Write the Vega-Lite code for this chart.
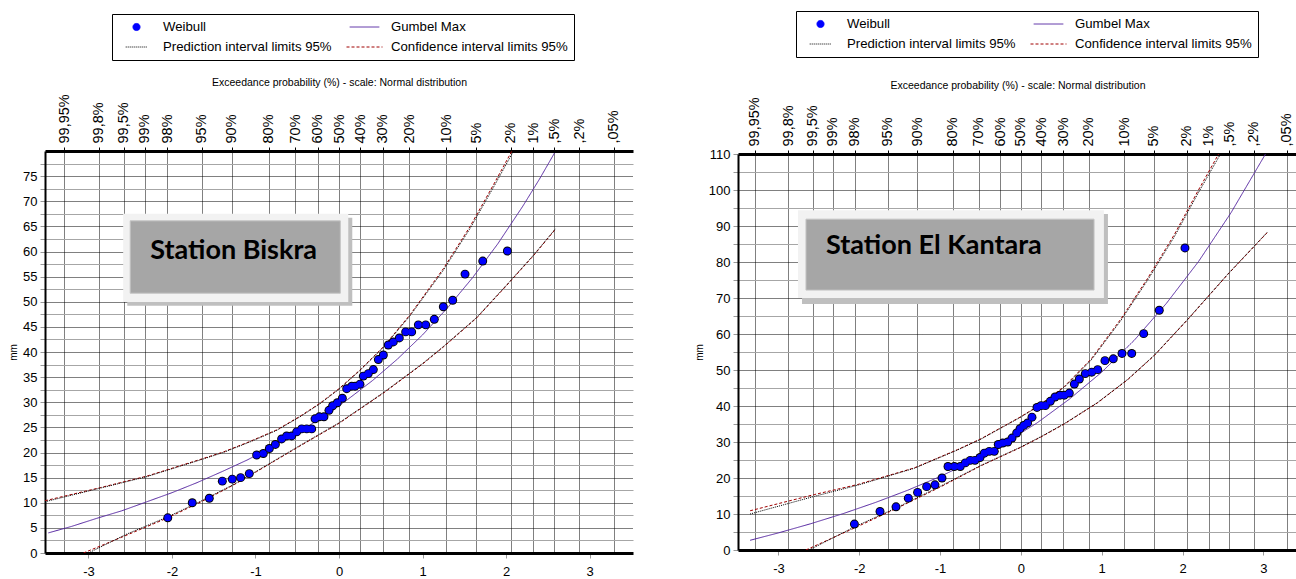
{
  "$schema": "https://vega.github.io/schema/vega-lite/v6.json",
  "background": "white",
  "padding": {"left": 8, "top": 10, "right": 0, "bottom": 0},
  "spacing": 61,
  "center": true,
  "resolve": {
    "scale": {"color": "independent", "shape": "independent", "size": "independent", "strokeDash": "independent"},
    "legend": {"color": "independent", "shape": "independent", "size": "independent", "strokeDash": "independent"}
  },
  "datasets": {
    "one": [{}],
    "bp": [
      {"series":"Weibull","z":-2.05,"mm":7.0},{"series":"Weibull","z":-1.757,"mm":10.0},{"series":"Weibull","z":-1.553,"mm":10.9},{"series":"Weibull","z":-1.397,"mm":14.3},{"series":"Weibull","z":-1.278,"mm":14.7},{"series":"Weibull","z":-1.178,"mm":15.0},{"series":"Weibull","z":-1.074,"mm":15.8},{"series":"Weibull","z":-0.986,"mm":19.5},{"series":"Weibull","z":-0.906,"mm":19.8},{"series":"Weibull","z":-0.834,"mm":20.8},{"series":"Weibull","z":-0.762,"mm":21.6},{"series":"Weibull","z":-0.687,"mm":22.7},{"series":"Weibull","z":-0.627,"mm":23.3},{"series":"Weibull","z":-0.567,"mm":23.3},{"series":"Weibull","z":-0.507,"mm":24.1},{"series":"Weibull","z":-0.447,"mm":24.7},{"series":"Weibull","z":-0.387,"mm":24.7},{"series":"Weibull","z":-0.327,"mm":24.7},{"series":"Weibull","z":-0.287,"mm":26.7},{"series":"Weibull","z":-0.236,"mm":27.1},{"series":"Weibull","z":-0.18,"mm":27.1},{"series":"Weibull","z":-0.12,"mm":28.4},{"series":"Weibull","z":-0.076,"mm":29.3},{"series":"Weibull","z":-0.02,"mm":29.9},{"series":"Weibull","z":0.04,"mm":30.8},{"series":"Weibull","z":0.092,"mm":32.7},{"series":"Weibull","z":0.152,"mm":33.2},{"series":"Weibull","z":0.192,"mm":33.2},{"series":"Weibull","z":0.251,"mm":33.6},{"series":"Weibull","z":0.291,"mm":35.2},{"series":"Weibull","z":0.351,"mm":35.7},{"series":"Weibull","z":0.411,"mm":36.5},{"series":"Weibull","z":0.471,"mm":38.5},{"series":"Weibull","z":0.531,"mm":39.4},{"series":"Weibull","z":0.59,"mm":41.4},{"series":"Weibull","z":0.65,"mm":42.0},{"series":"Weibull","z":0.722,"mm":42.8},{"series":"Weibull","z":0.798,"mm":44.0},{"series":"Weibull","z":0.87,"mm":44.0},{"series":"Weibull","z":0.95,"mm":45.4},{"series":"Weibull","z":1.038,"mm":45.4},{"series":"Weibull","z":1.141,"mm":46.5},{"series":"Weibull","z":1.249,"mm":49.0},{"series":"Weibull","z":1.361,"mm":50.3},{"series":"Weibull","z":1.509,"mm":55.5},{"series":"Weibull","z":1.721,"mm":58.1},{"series":"Weibull","z":2.016,"mm":60.1}
    ],
    "bl": [
      {"series":"Gumbel Max","part":"fit","z":-3.48,"mm":4.0},{"series":"Gumbel Max","part":"fit","z":-3.2,"mm":5.3},{"series":"Gumbel Max","part":"fit","z":-2.9,"mm":6.9},{"series":"Gumbel Max","part":"fit","z":-2.6,"mm":8.4},{"series":"Gumbel Max","part":"fit","z":-2.3,"mm":10.2},{"series":"Gumbel Max","part":"fit","z":-2.0,"mm":12.0},{"series":"Gumbel Max","part":"fit","z":-1.7,"mm":14.0},{"series":"Gumbel Max","part":"fit","z":-1.4,"mm":16.2},{"series":"Gumbel Max","part":"fit","z":-1.1,"mm":18.5},{"series":"Gumbel Max","part":"fit","z":-0.8,"mm":21.1},{"series":"Gumbel Max","part":"fit","z":-0.5,"mm":23.9},{"series":"Gumbel Max","part":"fit","z":-0.2,"mm":27.0},{"series":"Gumbel Max","part":"fit","z":0.1,"mm":30.5},{"series":"Gumbel Max","part":"fit","z":0.4,"mm":34.3},{"series":"Gumbel Max","part":"fit","z":0.7,"mm":38.6},{"series":"Gumbel Max","part":"fit","z":1.0,"mm":43.4},{"series":"Gumbel Max","part":"fit","z":1.3,"mm":48.8},{"series":"Gumbel Max","part":"fit","z":1.6,"mm":54.8},{"series":"Gumbel Max","part":"fit","z":1.9,"mm":61.5},{"series":"Gumbel Max","part":"fit","z":2.2,"mm":69.0},{"series":"Gumbel Max","part":"fit","z":2.4,"mm":74.4},{"series":"Gumbel Max","part":"fit","z":2.58,"mm":79.6},
      {"series":"Confidence interval limits 95%","part":"up","z":-3.52,"mm":10.4},{"series":"Confidence interval limits 95%","part":"up","z":-2.86,"mm":13.0},{"series":"Confidence interval limits 95%","part":"up","z":-2.3,"mm":15.3},{"series":"Confidence interval limits 95%","part":"up","z":-1.665,"mm":18.6},{"series":"Confidence interval limits 95%","part":"up","z":-1.386,"mm":20.1},{"series":"Confidence interval limits 95%","part":"up","z":-1.066,"mm":22.2},{"series":"Confidence interval limits 95%","part":"up","z":-0.746,"mm":24.5},{"series":"Confidence interval limits 95%","part":"up","z":-0.467,"mm":27.2},{"series":"Confidence interval limits 95%","part":"up","z":-0.228,"mm":29.8},{"series":"Confidence interval limits 95%","part":"up","z":0,"mm":32.7},{"series":"Confidence interval limits 95%","part":"up","z":0.25,"mm":36.4},{"series":"Confidence interval limits 95%","part":"up","z":0.53,"mm":41.0},{"series":"Confidence interval limits 95%","part":"up","z":0.85,"mm":47.4},{"series":"Confidence interval limits 95%","part":"up","z":1.25,"mm":56.6},{"series":"Confidence interval limits 95%","part":"up","z":1.57,"mm":65.0},{"series":"Confidence interval limits 95%","part":"up","z":1.85,"mm":73.3},{"series":"Confidence interval limits 95%","part":"up","z":2.07,"mm":80.0},
      {"series":"Prediction interval limits 95%","part":"up","z":-3.52,"mm":10.2},{"series":"Prediction interval limits 95%","part":"up","z":-2.86,"mm":12.9},{"series":"Prediction interval limits 95%","part":"up","z":-2.3,"mm":15.2},{"series":"Prediction interval limits 95%","part":"up","z":-1.665,"mm":18.5},{"series":"Prediction interval limits 95%","part":"up","z":-1.386,"mm":20.0},{"series":"Prediction interval limits 95%","part":"up","z":-1.066,"mm":22.1},{"series":"Prediction interval limits 95%","part":"up","z":-0.746,"mm":24.4},{"series":"Prediction interval limits 95%","part":"up","z":-0.467,"mm":27.1},{"series":"Prediction interval limits 95%","part":"up","z":-0.228,"mm":29.7},{"series":"Prediction interval limits 95%","part":"up","z":0,"mm":32.6},{"series":"Prediction interval limits 95%","part":"up","z":0.25,"mm":36.3},{"series":"Prediction interval limits 95%","part":"up","z":0.53,"mm":40.9},{"series":"Prediction interval limits 95%","part":"up","z":0.85,"mm":47.2},{"series":"Prediction interval limits 95%","part":"up","z":1.25,"mm":56.3},{"series":"Prediction interval limits 95%","part":"up","z":1.57,"mm":64.6},{"series":"Prediction interval limits 95%","part":"up","z":1.85,"mm":72.8},{"series":"Prediction interval limits 95%","part":"up","z":2.09,"mm":80.0},
      {"series":"Confidence interval limits 95%","part":"low","z":-3.06,"mm":0},{"series":"Confidence interval limits 95%","part":"low","z":-2.55,"mm":3.5},{"series":"Confidence interval limits 95%","part":"low","z":-2.05,"mm":7.0},{"series":"Confidence interval limits 95%","part":"low","z":-1.65,"mm":10.2},{"series":"Confidence interval limits 95%","part":"low","z":-1.266,"mm":13.5},{"series":"Confidence interval limits 95%","part":"low","z":-0.986,"mm":16.2},{"series":"Confidence interval limits 95%","part":"low","z":-0.467,"mm":21.3},{"series":"Confidence interval limits 95%","part":"low","z":0,"mm":25.8},{"series":"Confidence interval limits 95%","part":"low","z":0.53,"mm":31.8},{"series":"Confidence interval limits 95%","part":"low","z":1.0,"mm":37.6},{"series":"Confidence interval limits 95%","part":"low","z":1.25,"mm":41.0},{"series":"Confidence interval limits 95%","part":"low","z":1.65,"mm":46.8},{"series":"Confidence interval limits 95%","part":"low","z":2.01,"mm":53.3},{"series":"Confidence interval limits 95%","part":"low","z":2.33,"mm":59.2},{"series":"Confidence interval limits 95%","part":"low","z":2.59,"mm":64.4},
      {"series":"Prediction interval limits 95%","part":"low","z":-3.0,"mm":0},{"series":"Prediction interval limits 95%","part":"low","z":-2.55,"mm":3.7},{"series":"Prediction interval limits 95%","part":"low","z":-2.05,"mm":7.2},{"series":"Prediction interval limits 95%","part":"low","z":-1.65,"mm":10.35},{"series":"Prediction interval limits 95%","part":"low","z":-1.266,"mm":13.6},{"series":"Prediction interval limits 95%","part":"low","z":-0.986,"mm":16.3},{"series":"Prediction interval limits 95%","part":"low","z":-0.467,"mm":21.4},{"series":"Prediction interval limits 95%","part":"low","z":0,"mm":25.9},{"series":"Prediction interval limits 95%","part":"low","z":0.53,"mm":31.9},{"series":"Prediction interval limits 95%","part":"low","z":1.0,"mm":37.7},{"series":"Prediction interval limits 95%","part":"low","z":1.25,"mm":41.1},{"series":"Prediction interval limits 95%","part":"low","z":1.65,"mm":46.9},{"series":"Prediction interval limits 95%","part":"low","z":2.01,"mm":53.4},{"series":"Prediction interval limits 95%","part":"low","z":2.33,"mm":59.3},{"series":"Prediction interval limits 95%","part":"low","z":2.59,"mm":64.5}
    ],
    "kp": [
      {"series":"Weibull","z":-2.06,"mm":7.2},{"series":"Weibull","z":-1.743,"mm":10.7},{"series":"Weibull","z":-1.545,"mm":12.0},{"series":"Weibull","z":-1.393,"mm":14.4},{"series":"Weibull","z":-1.278,"mm":16.0},{"series":"Weibull","z":-1.166,"mm":17.6},{"series":"Weibull","z":-1.063,"mm":18.1},{"series":"Weibull","z":-0.976,"mm":20.0},{"series":"Weibull","z":-0.902,"mm":23.2},{"series":"Weibull","z":-0.824,"mm":23.2},{"series":"Weibull","z":-0.75,"mm":23.2},{"series":"Weibull","z":-0.688,"mm":24.2},{"series":"Weibull","z":-0.626,"mm":24.9},{"series":"Weibull","z":-0.568,"mm":24.9},{"series":"Weibull","z":-0.506,"mm":25.7},{"series":"Weibull","z":-0.453,"mm":26.9},{"series":"Weibull","z":-0.391,"mm":27.4},{"series":"Weibull","z":-0.329,"mm":27.4},{"series":"Weibull","z":-0.28,"mm":29.3},{"series":"Weibull","z":-0.225,"mm":29.7},{"series":"Weibull","z":-0.163,"mm":30.0},{"series":"Weibull","z":-0.11,"mm":31.1},{"series":"Weibull","z":-0.052,"mm":32.5},{"series":"Weibull","z":-0.011,"mm":33.7},{"series":"Weibull","z":0.034,"mm":34.6},{"series":"Weibull","z":0.083,"mm":35.3},{"series":"Weibull","z":0.137,"mm":36.9},{"series":"Weibull","z":0.199,"mm":39.6},{"series":"Weibull","z":0.249,"mm":40.1},{"series":"Weibull","z":0.302,"mm":40.1},{"series":"Weibull","z":0.364,"mm":41.3},{"series":"Weibull","z":0.422,"mm":42.5},{"series":"Weibull","z":0.484,"mm":43.0},{"series":"Weibull","z":0.537,"mm":43.0},{"series":"Weibull","z":0.599,"mm":43.6},{"series":"Weibull","z":0.661,"mm":46.1},{"series":"Weibull","z":0.723,"mm":47.5},{"series":"Weibull","z":0.797,"mm":49.0},{"series":"Weibull","z":0.876,"mm":49.4},{"series":"Weibull","z":0.95,"mm":50.1},{"series":"Weibull","z":1.04,"mm":52.6},{"series":"Weibull","z":1.143,"mm":53.1},{"series":"Weibull","z":1.251,"mm":54.6},{"series":"Weibull","z":1.371,"mm":54.6},{"series":"Weibull","z":1.519,"mm":60.1},{"series":"Weibull","z":1.712,"mm":66.6},{"series":"Weibull","z":2.03,"mm":83.9}
    ],
    "kl": [
      {"series":"Gumbel Max","part":"fit","z":-3.35,"mm":2.7},{"series":"Gumbel Max","part":"fit","z":-3.0,"mm":4.75},{"series":"Gumbel Max","part":"fit","z":-2.6,"mm":7.3},{"series":"Gumbel Max","part":"fit","z":-2.2,"mm":10.1},{"series":"Gumbel Max","part":"fit","z":-1.8,"mm":13.2},{"series":"Gumbel Max","part":"fit","z":-1.4,"mm":16.6},{"series":"Gumbel Max","part":"fit","z":-1.0,"mm":20.4},{"series":"Gumbel Max","part":"fit","z":-0.6,"mm":24.7},{"series":"Gumbel Max","part":"fit","z":-0.2,"mm":29.7},{"series":"Gumbel Max","part":"fit","z":0.2,"mm":35.3},{"series":"Gumbel Max","part":"fit","z":0.6,"mm":41.9},{"series":"Gumbel Max","part":"fit","z":1.0,"mm":49.4},{"series":"Gumbel Max","part":"fit","z":1.4,"mm":58.2},{"series":"Gumbel Max","part":"fit","z":1.8,"mm":68.5},{"series":"Gumbel Max","part":"fit","z":2.2,"mm":80.2},{"series":"Gumbel Max","part":"fit","z":2.6,"mm":93.7},{"series":"Gumbel Max","part":"fit","z":3.05,"mm":110.9},
      {"series":"Confidence interval limits 95%","part":"up","z":-3.35,"mm":10.9},{"series":"Confidence interval limits 95%","part":"up","z":-2.556,"mm":15.4},{"series":"Confidence interval limits 95%","part":"up","z":-2.019,"mm":18.2},{"series":"Confidence interval limits 95%","part":"up","z":-1.319,"mm":22.8},{"series":"Confidence interval limits 95%","part":"up","z":-0.782,"mm":27.9},{"series":"Confidence interval limits 95%","part":"up","z":-0.494,"mm":30.9},{"series":"Confidence interval limits 95%","part":"up","z":-0.011,"mm":36.9},{"series":"Confidence interval limits 95%","part":"up","z":0.208,"mm":39.9},{"series":"Confidence interval limits 95%","part":"up","z":0.537,"mm":45.4},{"series":"Confidence interval limits 95%","part":"up","z":0.867,"mm":53.0},{"series":"Confidence interval limits 95%","part":"up","z":1.238,"mm":64.2},{"series":"Confidence interval limits 95%","part":"up","z":1.569,"mm":75.5},{"series":"Confidence interval limits 95%","part":"up","z":1.898,"mm":87.6},{"series":"Confidence interval limits 95%","part":"up","z":2.187,"mm":99.6},{"series":"Confidence interval limits 95%","part":"up","z":2.476,"mm":111.2},
      {"series":"Prediction interval limits 95%","part":"up","z":-3.35,"mm":10.0},{"series":"Prediction interval limits 95%","part":"up","z":-2.556,"mm":14.9},{"series":"Prediction interval limits 95%","part":"up","z":-2.019,"mm":18.0},{"series":"Prediction interval limits 95%","part":"up","z":-1.319,"mm":22.7},{"series":"Prediction interval limits 95%","part":"up","z":-0.782,"mm":27.8},{"series":"Prediction interval limits 95%","part":"up","z":-0.494,"mm":30.8},{"series":"Prediction interval limits 95%","part":"up","z":-0.011,"mm":36.8},{"series":"Prediction interval limits 95%","part":"up","z":0.208,"mm":39.8},{"series":"Prediction interval limits 95%","part":"up","z":0.537,"mm":45.2},{"series":"Prediction interval limits 95%","part":"up","z":0.867,"mm":52.7},{"series":"Prediction interval limits 95%","part":"up","z":1.238,"mm":63.8},{"series":"Prediction interval limits 95%","part":"up","z":1.569,"mm":75.0},{"series":"Prediction interval limits 95%","part":"up","z":1.898,"mm":87.0},{"series":"Prediction interval limits 95%","part":"up","z":2.187,"mm":98.9},{"series":"Prediction interval limits 95%","part":"up","z":2.5,"mm":111.2},
      {"series":"Confidence interval limits 95%","part":"low","z":-2.66,"mm":0},{"series":"Confidence interval limits 95%","part":"low","z":-2.061,"mm":6.1},{"series":"Confidence interval limits 95%","part":"low","z":-1.524,"mm":11.7},{"series":"Confidence interval limits 95%","part":"low","z":-0.988,"mm":17.6},{"series":"Confidence interval limits 95%","part":"low","z":-0.494,"mm":23.4},{"series":"Confidence interval limits 95%","part":"low","z":-0.011,"mm":28.4},{"series":"Confidence interval limits 95%","part":"low","z":0.249,"mm":31.4},{"series":"Confidence interval limits 95%","part":"low","z":0.537,"mm":35.0},{"series":"Confidence interval limits 95%","part":"low","z":0.95,"mm":40.9},{"series":"Confidence interval limits 95%","part":"low","z":1.321,"mm":47.3},{"series":"Confidence interval limits 95%","part":"low","z":1.65,"mm":54.0},{"series":"Confidence interval limits 95%","part":"low","z":2.064,"mm":64.0},{"series":"Confidence interval limits 95%","part":"low","z":2.558,"mm":76.5},{"series":"Confidence interval limits 95%","part":"low","z":3.045,"mm":88.1},
      {"series":"Prediction interval limits 95%","part":"low","z":-2.62,"mm":0},{"series":"Prediction interval limits 95%","part":"low","z":-2.061,"mm":6.4},{"series":"Prediction interval limits 95%","part":"low","z":-1.524,"mm":11.9},{"series":"Prediction interval limits 95%","part":"low","z":-0.988,"mm":17.8},{"series":"Prediction interval limits 95%","part":"low","z":-0.494,"mm":23.5},{"series":"Prediction interval limits 95%","part":"low","z":-0.011,"mm":28.5},{"series":"Prediction interval limits 95%","part":"low","z":0.249,"mm":31.5},{"series":"Prediction interval limits 95%","part":"low","z":0.537,"mm":35.1},{"series":"Prediction interval limits 95%","part":"low","z":0.95,"mm":41.0},{"series":"Prediction interval limits 95%","part":"low","z":1.321,"mm":47.4},{"series":"Prediction interval limits 95%","part":"low","z":1.65,"mm":54.1},{"series":"Prediction interval limits 95%","part":"low","z":2.064,"mm":64.1},{"series":"Prediction interval limits 95%","part":"low","z":2.558,"mm":76.6},{"series":"Prediction interval limits 95%","part":"low","z":3.045,"mm":88.2}
    ]
  },
  "hconcat": [
    {
      "width": 588, "height": 402,
      "resolve": {"axis": {"x": "independent", "y": "independent"}},
      "layer": [
        {"data": {"name": "bl"}, "mark": {"type": "line", "strokeWidth": 1, "clip": true},
         "encoding": {
           "x": {"field": "z", "type": "quantitative", "scale": {"domain": [-3.52, 3.52], "nice": false, "zero": false}, "axis": {"orient": "bottom", "values": [-3, -2, -1, 0, 1, 2, 3], "labelExpr": "datum.value < 0 ? '-' + abs(datum.value) : '' + datum.value", "grid": false, "title": null, "domainColor": "black", "domainWidth": 3, "tickColor": "#999999", "tickSize": 5, "labelFontSize": 13, "labelPadding": 7, "labelFlush": false}},
           "y": {"field": "mm", "type": "quantitative", "scale": {"domain": [0, 80], "nice": false, "zero": false}, "axis": {"title": "mm", "titleFontSize": 10, "titleFontWeight": "normal", "titlePadding": 4,
              "values": [0, 2.5, 5, 7.5, 10, 12.5, 15, 17.5, 20, 22.5, 25, 27.5, 30, 32.5, 35, 37.5, 40, 42.5, 45, 47.5, 50, 52.5, 55, 57.5, 60, 62.5, 65, 67.5, 70, 72.5, 75, 77.5],
              "labelExpr": "datum.value % 5 === 0 ? datum.label : ''", "labelOverlap": false,
              "grid": true, "gridColor": {"condition": {"test": "datum.value % 5 === 0", "value": "#000000"}, "value": "#a6a6a6"},
              "gridDash": {"condition": {"test": "datum.value % 5 === 0", "value": [1, 1]}, "value": []},
              "domainColor": "black", "domainWidth": 2, "tickColor": "#999999", "tickSize": 5, "labelFontSize": 13, "labelPadding": 3}},
           "color": {"field": "series", "type": "nominal",
             "scale": {"domain": ["Weibull", "Prediction interval limits 95%", "Gumbel Max", "Confidence interval limits 95%"], "range": ["#0000ff", "#000000", "#5424a0", "#a00000"]},
             "legend": {"title": null, "orient": "none", "legendX": 67, "legendY": -137, "columns": 2, "clipHeight": 14, "labelOffset": 8, "columnPadding": 14, "rowPadding": 6, "padding": 6, "strokeColor": "black", "fillColor": "white", "labelFontSize": 13.2, "labelColor": "black", "symbolStrokeWidth": 1, "labelLimit": 400}},
           "strokeDash": {"field": "series", "type": "nominal",
             "scale": {"domain": ["Weibull", "Prediction interval limits 95%", "Gumbel Max", "Confidence interval limits 95%"], "range": [[1, 0], [1, 1], [1, 0], [3, 2]]}},
           "detail": {"field": "part"}
         }},
        {"data": {"name": "one"}, "mark": {"type": "rect", "color": "#bfbfbf"},
         "encoding": {"x": {"datum": -2.535, "type": "quantitative", "axis": null}, "x2": {"datum": 0.159},
                      "y": {"datum": 66.7, "type": "quantitative", "axis": null}, "y2": {"datum": 49.2}}},
        {"data": {"name": "one"}, "mark": {"type": "rect", "color": "#f2f2f2"},
         "encoding": {"x": {"datum": -2.584, "type": "quantitative", "axis": null}, "x2": {"datum": 0.111}, "y": {"datum": 67.5, "type": "quantitative", "axis": null}, "y2": {"datum": 49.95}}},
        {"data": {"name": "one"}, "mark": {"type": "rect", "color": "#a6a6a6", "stroke": "#c4c4c4", "strokeWidth": 1},
         "encoding": {"x": {"datum": -2.5, "type": "quantitative", "axis": null}, "x2": {"datum": 0.016}, "y": {"datum": 66.1, "type": "quantitative", "axis": null}, "y2": {"datum": 51.7}}},
        {"data": {"name": "one"}, "mark": {"type": "text", "text": "Station Biskra", "font": "Lato", "fontWeight": "bold", "fontSize": 27, "align": "left", "baseline": "middle", "color": "black"},
         "encoding": {"x": {"datum": -2.26, "type": "quantitative", "axis": null}, "y": {"datum": 60.1, "type": "quantitative", "axis": null}}},
        {"data": {"name": "bp"}, "mark": {"type": "point", "filled": true, "color": "black", "size": 80, "opacity": 1},
         "encoding": {"x": {"field": "z", "type": "quantitative", "axis": null}, "y": {"field": "mm", "type": "quantitative", "axis": null}}},
        {"data": {"name": "bp"}, "mark": {"type": "point", "filled": true, "opacity": 1},
         "encoding": {
           "x": {"field": "z", "type": "quantitative", "axis": {"orient": "top",
              "values": [-3.2905, -2.8782, -2.5758, -2.3263, -2.0537, -1.6449, -1.2816, -0.8416, -0.5244, -0.2533, 0, 0.2533, 0.5244, 0.8416, 1.2816, 1.6449, 2.0537, 2.3263, 2.5758, 2.8782, 3.2905],
              "labelExpr": "datum.value < -3 ? '99,95%' : datum.value < -2.7 ? '99,8%' : datum.value < -2.45 ? '99,5%' : datum.value < -2.2 ? '99%' : datum.value < -1.9 ? '98%' : datum.value < -1.5 ? '95%' : datum.value < -1.1 ? '90%' : datum.value < -0.7 ? '80%' : datum.value < -0.4 ? '70%' : datum.value < -0.1 ? '60%' : datum.value < 0.1 ? '50%' : datum.value < 0.4 ? '40%' : datum.value < 0.7 ? '30%' : datum.value < 1.1 ? '20%' : datum.value < 1.5 ? '10%' : datum.value < 1.9 ? '5%' : datum.value < 2.2 ? '2%' : datum.value < 2.45 ? '1%' : datum.value < 2.7 ? ',5%' : datum.value < 3 ? ',2%' : ',05%'",
              "labelAngle": -90, "labelFontSize": 14.5, "labelPadding": 4, "labelOverlap": false, "labelFlush": false, "labelBound": false,
              "grid": true, "gridColor": "black", "gridDash": [1, 1], "gridWidth": 1,
              "domainColor": "black", "domainWidth": 3, "tickColor": "black", "tickSize": 4,
              "title": "Exceedance probability  (%) - scale: Normal distribution", "titleFontSize": 10.5, "titleFontWeight": "normal", "titlePadding": 6}},
           "y": {"field": "mm", "type": "quantitative", "axis": null},
           "color": {"field": "series", "type": "nominal",
             "scale": {"domain": ["Weibull", "Prediction interval limits 95%", "Gumbel Max", "Confidence interval limits 95%"], "range": ["#0000ff", "#000000", "#5424a0", "#a00000"]},
             "legend": {"title": null, "orient": "none", "legendX": 67, "legendY": -137, "columns": 2, "clipHeight": 14, "labelOffset": 8, "columnPadding": 14, "rowPadding": 6, "padding": 6, "strokeColor": "black", "fillColor": "white", "labelFontSize": 13.2, "labelColor": "black", "symbolStrokeWidth": 1, "labelLimit": 400}},
           "shape": {"field": "series", "type": "nominal",
             "scale": {"domain": ["Weibull", "Prediction interval limits 95%", "Gumbel Max", "Confidence interval limits 95%"], "range": ["circle", "stroke", "stroke", "stroke"]}},
           "size": {"field": "series", "type": "nominal",
             "scale": {"domain": ["Weibull", "Prediction interval limits 95%", "Gumbel Max", "Confidence interval limits 95%"], "range": [50, 1296, 1296, 1296]}}
         }}
      ]
    },
    {
      "width": 559, "height": 396,
      "resolve": {"axis": {"x": "independent", "y": "independent"}},
      "layer": [
        {"data": {"name": "kl"}, "mark": {"type": "line", "strokeWidth": 1, "clip": true},
         "encoding": {
           "x": {"field": "z", "type": "quantitative", "scale": {"domain": [-3.5, 3.416], "nice": false, "zero": false}, "axis": {"orient": "bottom", "values": [-3, -2, -1, 0, 1, 2, 3], "labelExpr": "datum.value < 0 ? '-' + abs(datum.value) : '' + datum.value", "grid": false, "title": null, "domainColor": "black", "domainWidth": 3, "tickColor": "#999999", "tickSize": 5, "labelFontSize": 13, "labelPadding": 7, "labelFlush": false}},
           "y": {"field": "mm", "type": "quantitative", "scale": {"domain": [0, 110], "nice": false, "zero": false}, "axis": {"title": "mm", "titleFontSize": 10, "titleFontWeight": "normal", "titlePadding": 4,
              "values": [0, 5, 10, 15, 20, 25, 30, 35, 40, 45, 50, 55, 60, 65, 70, 75, 80, 85, 90, 95, 100, 105, 110],
              "labelExpr": "datum.value % 10 === 0 ? datum.label : ''", "labelOverlap": false,
              "grid": true, "gridColor": {"condition": {"test": "datum.value % 10 === 0", "value": "#000000"}, "value": "#a6a6a6"},
              "gridDash": {"condition": {"test": "datum.value % 10 === 0", "value": [1, 1]}, "value": []},
              "domainColor": "black", "domainWidth": 2, "tickColor": "#999999", "tickSize": 5, "labelFontSize": 13, "labelPadding": 3}},
           "color": {"field": "series", "type": "nominal",
             "scale": {"domain": ["Weibull", "Prediction interval limits 95%", "Gumbel Max", "Confidence interval limits 95%"], "range": ["#0000ff", "#000000", "#5424a0", "#a00000"]},
             "legend": {"title": null, "orient": "none", "legendX": 58, "legendY": -143, "columns": 2, "clipHeight": 14, "labelOffset": 8, "columnPadding": 14, "rowPadding": 6, "padding": 6, "strokeColor": "black", "fillColor": "white", "labelFontSize": 13.2, "labelColor": "black", "symbolStrokeWidth": 1, "labelLimit": 400}},
           "strokeDash": {"field": "series", "type": "nominal",
             "scale": {"domain": ["Weibull", "Prediction interval limits 95%", "Gumbel Max", "Confidence interval limits 95%"], "range": [[1, 0], [1, 1], [1, 0], [3, 2]]}},
           "detail": {"field": "part"}
         }},
        {"data": {"name": "one"}, "mark": {"type": "rect", "color": "#bfbfbf"},
         "encoding": {"x": {"datum": -2.708, "type": "quantitative", "axis": null}, "x2": {"datum": 1.077},
                      "y": {"datum": 93.3, "type": "quantitative", "axis": null}, "y2": {"datum": 68.3}}},
        {"data": {"name": "one"}, "mark": {"type": "rect", "color": "#f2f2f2"},
         "encoding": {"x": {"datum": -2.758, "type": "quantitative", "axis": null}, "x2": {"datum": 1.027}, "y": {"datum": 94.4, "type": "quantitative", "axis": null}, "y2": {"datum": 70.0}}},
        {"data": {"name": "one"}, "mark": {"type": "rect", "color": "#a6a6a6", "stroke": "#c4c4c4", "strokeWidth": 1},
         "encoding": {"x": {"datum": -2.659, "type": "quantitative", "axis": null}, "x2": {"datum": 0.905}, "y": {"datum": 91.9, "type": "quantitative", "axis": null}, "y2": {"datum": 72.2}}},
        {"data": {"name": "one"}, "mark": {"type": "text", "text": "Station El Kantara", "font": "Lato", "fontWeight": "bold", "fontSize": 27, "align": "left", "baseline": "middle", "color": "black"},
         "encoding": {"x": {"datum": -2.411, "type": "quantitative", "axis": null}, "y": {"datum": 84.4, "type": "quantitative", "axis": null}}},
        {"data": {"name": "kp"}, "mark": {"type": "point", "filled": true, "color": "black", "size": 80, "opacity": 1},
         "encoding": {"x": {"field": "z", "type": "quantitative", "axis": null}, "y": {"field": "mm", "type": "quantitative", "axis": null}}},
        {"data": {"name": "kp"}, "mark": {"type": "point", "filled": true, "opacity": 1},
         "encoding": {
           "x": {"field": "z", "type": "quantitative", "axis": {"orient": "top",
              "values": [-3.2905, -2.8782, -2.5758, -2.3263, -2.0537, -1.6449, -1.2816, -0.8416, -0.5244, -0.2533, 0, 0.2533, 0.5244, 0.8416, 1.2816, 1.6449, 2.0537, 2.3263, 2.5758, 2.8782, 3.2905],
              "labelExpr": "datum.value < -3 ? '99,95%' : datum.value < -2.7 ? '99,8%' : datum.value < -2.45 ? '99,5%' : datum.value < -2.2 ? '99%' : datum.value < -1.9 ? '98%' : datum.value < -1.5 ? '95%' : datum.value < -1.1 ? '90%' : datum.value < -0.7 ? '80%' : datum.value < -0.4 ? '70%' : datum.value < -0.1 ? '60%' : datum.value < 0.1 ? '50%' : datum.value < 0.4 ? '40%' : datum.value < 0.7 ? '30%' : datum.value < 1.1 ? '20%' : datum.value < 1.5 ? '10%' : datum.value < 1.9 ? '5%' : datum.value < 2.2 ? '2%' : datum.value < 2.45 ? '1%' : datum.value < 2.7 ? ',5%' : datum.value < 3 ? ',2%' : ',05%'",
              "labelAngle": -90, "labelFontSize": 14.5, "labelPadding": 4, "labelOverlap": false, "labelFlush": false, "labelBound": false,
              "grid": true, "gridColor": "black", "gridDash": [1, 1], "gridWidth": 1,
              "domainColor": "black", "domainWidth": 3, "tickColor": "black", "tickSize": 4,
              "title": "Exceedance probability  (%) - scale: Normal distribution", "titleFontSize": 10.5, "titleFontWeight": "normal", "titlePadding": 6}},
           "y": {"field": "mm", "type": "quantitative", "axis": null},
           "color": {"field": "series", "type": "nominal",
             "scale": {"domain": ["Weibull", "Prediction interval limits 95%", "Gumbel Max", "Confidence interval limits 95%"], "range": ["#0000ff", "#000000", "#5424a0", "#a00000"]},
             "legend": {"title": null, "orient": "none", "legendX": 58, "legendY": -143, "columns": 2, "clipHeight": 14, "labelOffset": 8, "columnPadding": 14, "rowPadding": 6, "padding": 6, "strokeColor": "black", "fillColor": "white", "labelFontSize": 13.2, "labelColor": "black", "symbolStrokeWidth": 1, "labelLimit": 400}},
           "shape": {"field": "series", "type": "nominal",
             "scale": {"domain": ["Weibull", "Prediction interval limits 95%", "Gumbel Max", "Confidence interval limits 95%"], "range": ["circle", "stroke", "stroke", "stroke"]}},
           "size": {"field": "series", "type": "nominal",
             "scale": {"domain": ["Weibull", "Prediction interval limits 95%", "Gumbel Max", "Confidence interval limits 95%"], "range": [50, 1296, 1296, 1296]}}
         }}
      ]
    }
  ],
  "config": {
    "view": {"stroke": null},
    "font": "Liberation Sans",
    "axis": {"labelFont": "Liberation Sans", "titleFont": "Liberation Sans", "labelColor": "black", "titleColor": "black"},
    "legend": {"labelFont": "Liberation Sans"}
  }
}
